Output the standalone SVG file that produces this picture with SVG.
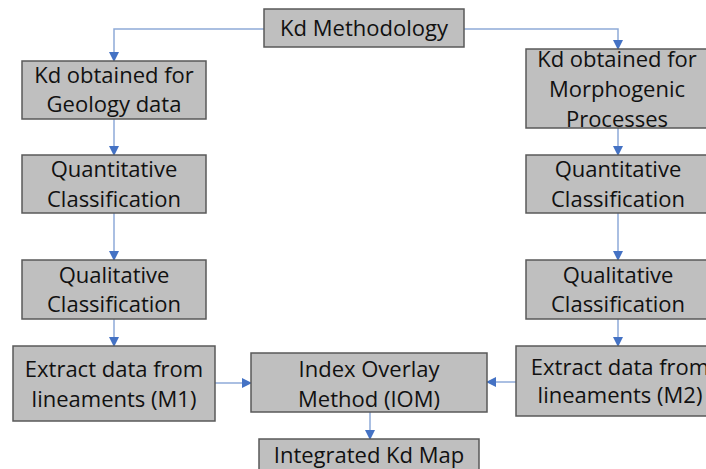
<svg xmlns="http://www.w3.org/2000/svg" width="706" height="469" viewBox="0 0 706 469">
<defs>
<style>
.box{fill:#bfbfbf;stroke:#595959;stroke-width:1.5}
.t{font-family:"Open Sans","Liberation Sans",sans-serif;font-size:22px;fill:#111;text-anchor:middle}
.c{fill:none;stroke:#8eaad8;stroke-width:1.5}
</style>
<marker id="ah" markerWidth="10" markerHeight="10" refX="9" refY="5" orient="auto" markerUnits="userSpaceOnUse">
<path d="M0,0 L10,5 L0,10 Z" fill="#4472c4"/>
</marker>
</defs>
<rect width="706" height="469" fill="#fff"/>
<g id="connectors">
<path class="c" d="M264,29 H114 V61" marker-end="url(#ah)"/>
<path class="c" d="M464,29 H618 V49" marker-end="url(#ah)"/>
<path class="c" d="M114,119 V155" marker-end="url(#ah)"/>
<path class="c" d="M114,213 V260" marker-end="url(#ah)"/>
<path class="c" d="M114,319 V346" marker-end="url(#ah)"/>
<path class="c" d="M618,128 V155" marker-end="url(#ah)"/>
<path class="c" d="M618,213 V260" marker-end="url(#ah)"/>
<path class="c" d="M618,319 V346" marker-end="url(#ah)"/>
<path class="c" d="M215,383 H251" marker-end="url(#ah)"/>
<path class="c" d="M516,382 H487" marker-end="url(#ah)"/>
<path class="c" d="M370,412 V439" marker-end="url(#ah)"/>
</g>
<g id="kd-methodology">
<rect class="box" x="264" y="9" width="200" height="38"/>
<text class="t" x="364" y="36">Kd Methodology</text>
</g>
<g id="geology">
<rect class="box" x="22" y="61" width="184" height="58"/>
<text class="t" x="114" y="83">Kd obtained for</text>
<text class="t" x="114" y="112">Geology data</text>
</g>
<g id="morphogenic">
<rect class="box" x="526" y="49" width="182" height="79"/>
<text class="t" x="617" y="67">Kd obtained for</text>
<text class="t" x="617" y="97">Morphogenic</text>
<text class="t" x="617" y="127">Processes</text>
</g>
<g id="quant-left">
<rect class="box" x="22" y="155" width="184" height="58"/>
<text class="t" x="114" y="177">Quantitative</text>
<text class="t" x="114" y="207">Classification</text>
</g>
<g id="quant-right">
<rect class="box" x="526" y="155" width="182" height="58"/>
<text class="t" x="618" y="177">Quantitative</text>
<text class="t" x="618" y="207">Classification</text>
</g>
<g id="qual-left">
<rect class="box" x="22" y="260" width="184" height="59"/>
<text class="t" x="114" y="283">Qualitative</text>
<text class="t" x="114" y="312">Classification</text>
</g>
<g id="qual-right">
<rect class="box" x="526" y="260" width="182" height="59"/>
<text class="t" x="618" y="283">Qualitative</text>
<text class="t" x="618" y="312">Classification</text>
</g>
<g id="extract-m1">
<rect class="box" x="13" y="346" width="202" height="75"/>
<text class="t" x="114" y="377">Extract data from</text>
<text class="t" x="114" y="407">lineaments (M1)</text>
</g>
<g id="iom">
<rect class="box" x="251" y="353" width="236" height="59"/>
<text class="t" x="369" y="377">Index Overlay</text>
<text class="t" x="369" y="407">Method (IOM)</text>
</g>
<g id="extract-m2">
<rect class="box" x="516" y="346" width="192" height="70"/>
<text class="t" x="620" y="375">Extract data from</text>
<text class="t" x="620" y="403">lineaments (M2)</text>
</g>
<g id="integrated">
<rect class="box" x="259" y="439" width="220" height="34"/>
<text class="t" x="369" y="463">Integrated Kd Map</text>
</g>
</svg>
